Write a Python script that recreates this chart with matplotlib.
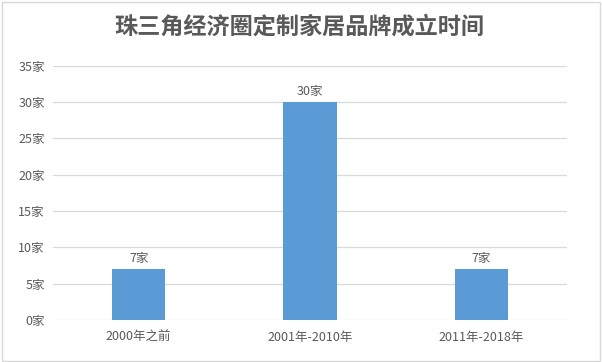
import matplotlib
matplotlib.use("Agg")
import matplotlib.pyplot as plt
from matplotlib.patches import Rectangle

plt.rcParams['font.family'] = ['Noto Sans CJK SC', 'DejaVu Sans']

title = "珠三角经济圈定制家居品牌成立时间"
categories = ["2000年之前", "2001年-2010年", "2011年-2018年"]
counts = [7, 30, 7]
yticks = [0, 5, 10, 15, 20, 25, 30, 35]

text_color = "#595959"
bar_color = "#5B9BD5"
grid_color = "#D9D9D9"

fig = plt.figure(figsize=(6.02, 3.62), dpi=100)
fig.patches.append(Rectangle((0.004, 0.004), 0.992, 0.99, transform=fig.transFigure,
                             fill=False, edgecolor=grid_color, linewidth=1))

ax = fig.add_axes([0.088, 0.116, 0.854, 0.702])
x = list(range(len(categories)))
bars = ax.bar(x, counts, width=0.31, color=bar_color, zorder=3)

ax.set_xlim(-0.5, len(categories) - 0.5)
ax.set_ylim(0, 35)
ax.set_yticks(yticks)
ax.set_yticklabels([f"{v}家" for v in yticks], color=text_color, fontsize=9)
ax.set_xticks(x)
ax.set_xticklabels(categories, color=text_color, fontsize=9)
ax.tick_params(axis='both', length=0, pad=6)
ax.tick_params(axis='x', pad=8)
ax.grid(axis='y', color=grid_color, linewidth=0.9, zorder=0)
for s in ax.spines.values():
    s.set_visible(False)

for b, v in zip(bars, counts):
    ax.annotate(f"{v}家", (b.get_x() + b.get_width() / 2, v), xytext=(0, 3),
                textcoords="offset points", ha="center", va="bottom",
                color=text_color, fontsize=9)

fig.text(0.497, 0.925, title, ha="center", va="center", fontsize=16.7,
         fontweight="bold", color=text_color)

fig.savefig("out.png", dpi=100)
